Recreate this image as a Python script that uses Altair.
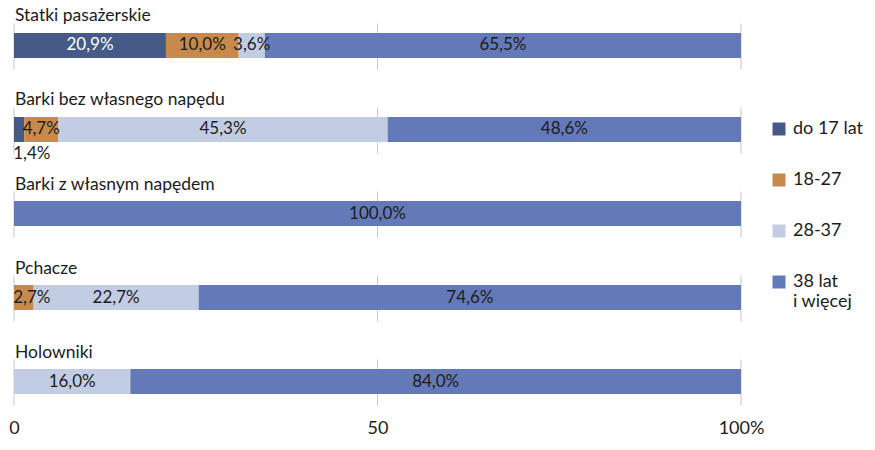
import altair as alt
import pandas as pd

categories = ["Statki pasażerskie", "Barki bez własnego napędu",
              "Barki z własnym napędem", "Pchacze", "Holowniki"]
groups = ["do 17 lat", "18-27", "28-37", "38 lat i więcej"]
do17 = [20.9, 1.4, 0.0, 0.0, 0.0]
g18_27 = [10.0, 4.7, 0.0, 2.7, 0.0]
g28_37 = [3.6, 45.3, 0.0, 22.7, 16.0]
g38 = [65.5, 48.6, 100.0, 74.6, 84.0]
series = [do17, g18_27, g28_37, g38]
colors = ["#465a88", "#c8894c", "#c2cce3", "#6479b7"]
grid_ticks = [0, 50, 100]

rows = []
for gi, (g, vals) in enumerate(zip(groups, series)):
    for c, v in zip(categories, vals):
        if v > 0:
            rows.append({"cat": c, "grp": g, "ord": gi, "value": v})
df = pd.DataFrame(rows)
grid_df = pd.DataFrame([{"cat": c, "g": t} for c in categories for t in grid_ticks])
title_df = pd.DataFrame({"cat": categories})

FONT = "Lato"
DARK = "#1c1c1c"

yscale = alt.Scale(domain=categories, paddingInner=0.452, paddingOuter=0.077)
xscale = alt.Scale(domain=[0, 100], nice=False, zero=True)


def xaxis():
    return alt.Axis(values=grid_ticks, labelExpr="datum.value == 100 ? '100%' : datum.label",
                    domain=False, ticks=False, grid=False, title=None,
                    labelFont=FONT, labelFontSize=18, labelColor=DARK, labelPadding=8,
                    labelFlush=False)


grid = alt.Chart(grid_df).mark_tick(color="#c8c8c8", thickness=1, size=46, yOffset=1,
                                    opacity=1).encode(
    x=alt.X("g:Q", scale=xscale, axis=xaxis()),
    y=alt.Y("cat:N", scale=yscale, axis=None),
)

stacked = alt.Chart(df).transform_stack(
    stack="value", as_=["x0", "x1"], groupby=["cat"],
    sort=[alt.SortField("ord", order="ascending")]
).transform_calculate(
    mid="max((datum.x0 + datum.x1) / 2, 2.45)",
    lbl="replace(format(datum.value, '.1f'), '.', ',') + '%'",
)

bars = stacked.mark_bar(height=25).encode(
    x=alt.X("x0:Q", scale=xscale, axis=xaxis()),
    x2="x1:Q",
    y=alt.Y("cat:N", scale=yscale, axis=None),
    color=alt.Color("grp:N", scale=alt.Scale(domain=groups, range=colors),
                    sort=groups,
                    legend=alt.Legend(orient="none", legendX=756, legendY=104, title=None,
                                      symbolType="square", symbolSize=169,
                                      symbolStrokeWidth=0, labelFont=FONT,
                                      labelFontSize=18, labelColor=DARK, labelOffset=5,
                                      rowPadding=33, labelLimit=200,
                                      labelExpr="datum.label == '38 lat i więcej' ? ['38 lat', 'i więcej'] : datum.label")),
)

labels = stacked.transform_filter("datum.value >= 2").mark_text(
    font=FONT, fontSize=17, baseline="middle", align="center"
).encode(
    x=alt.X("mid:Q", scale=xscale, axis=xaxis()),
    y=alt.Y("cat:N", scale=yscale, axis=None),
    text="lbl:N",
    color=alt.condition("datum.grp == 'do 17 lat'", alt.value("white"), alt.value(DARK)),
)

small_labels = stacked.transform_filter("datum.value < 2").mark_text(
    font=FONT, fontSize=17, baseline="middle", align="center", dy=25, color=DARK
).encode(
    x=alt.X("mid:Q", scale=xscale, axis=xaxis()),
    y=alt.Y("cat:N", scale=yscale, axis=None),
    text="lbl:N",
)

titles = alt.Chart(title_df).mark_text(
    font=FONT, fontSize=17.5, align="left", baseline="alphabetic", dy=-24, color=DARK
).encode(
    x=alt.value(1),
    y=alt.Y("cat:N", scale=yscale, axis=None),
    text="cat:N",
)

chart = alt.layer(grid, bars, labels, small_labels, titles).properties(
    width=727, height=395,
    padding={"left": 14, "top": 16, "right": 134, "bottom": 39},
    autosize=alt.AutoSizeParams(type="none"),
    background="white",
).configure_view(stroke=None)

chart.save("out.html", embed_options={"renderer": "svg", "actions": False})
